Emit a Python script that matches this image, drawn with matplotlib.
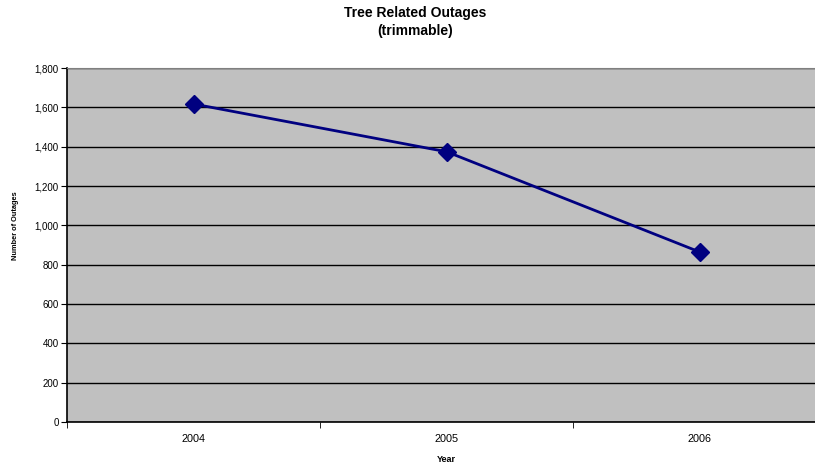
import numpy as np
import matplotlib.pyplot as plt
from matplotlib.ticker import FuncFormatter

years = ['2004', '2005', '2006']
outages = [1617, 1374, 864]

plt.rcParams['font.family'] = ['Liberation Sans', 'DejaVu Sans']

fig = plt.figure(figsize=(8.15, 4.68), dpi=100)
ax = fig.add_axes([67 / 815, 1 - 422 / 468, 759.5 / 815, 354 / 468])
ax.set_facecolor('#c0c0c0')

x = np.arange(len(years))
ax.plot(x, outages, color='#000080', lw=2, marker='D', ms=9, zorder=3, clip_on=False)

ax.set_xlim(-0.5, len(years) - 0.5)
ax.set_ylim(0, 1800)
ax.set_yticks(np.arange(0, 1801, 200))
ax.yaxis.set_major_formatter(FuncFormatter(lambda v, p: f'{int(v):,}'))
ax.grid(axis='y', color='black', lw=1)
ax.set_axisbelow(True)

ax.set_xticks(x)
ax.set_xticklabels(years)
ax.set_xticks(np.arange(-0.5, len(years), 1), minor=True)
ax.tick_params(axis='x', which='major', length=0, pad=9, labelsize=7.8)
ax.tick_params(axis='x', which='minor', length=4, direction='out', color='black')
ax.tick_params(axis='y', length=4, direction='out', labelsize=7, pad=2)

for s in ['top', 'right']:
    ax.spines[s].set_color('#808080')
for s in ['left', 'bottom']:
    ax.spines[s].set_color('black')
    ax.spines[s].set_linewidth(1.2)

fig.text(415 / 815, 1 - 13 / 468, 'Tree Related Outages', ha='center', va='center',
         fontsize=10, fontweight='bold')
fig.text(415 / 815, 1 - 31 / 468, '(trimmable)', ha='center', va='center',
         fontsize=10, fontweight='bold')
fig.text(446 / 815, 1 - 460 / 468, 'Year', ha='center', va='center',
         fontsize=6.5, fontweight='bold')
fig.text(16 / 815, 1 - 226 / 468, 'Number of Outages', ha='center', va='center',
         rotation=90, fontsize=5.3, fontweight='bold')

fig.savefig('out.png', dpi=100)
